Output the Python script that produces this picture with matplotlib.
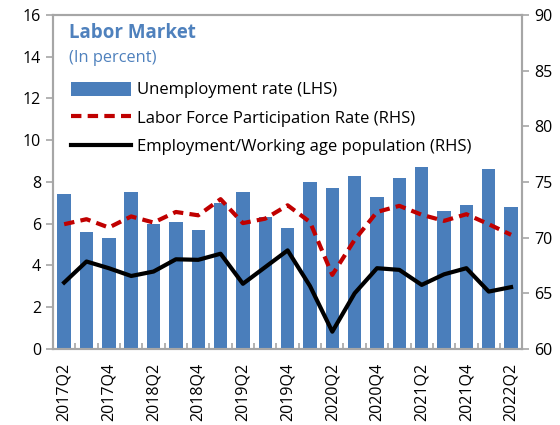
import matplotlib
matplotlib.use("Agg")
import matplotlib.pyplot as plt
from matplotlib.lines import Line2D
from matplotlib.patches import Patch
import numpy as np

plt.rcParams['font.family'] = ['Open Sans', 'DejaVu Sans']

quarters = ["2017Q2", "2017Q3", "2017Q4", "2018Q1", "2018Q2", "2018Q3", "2018Q4",
            "2019Q1", "2019Q2", "2019Q3", "2019Q4", "2020Q1", "2020Q2", "2020Q3",
            "2020Q4", "2021Q1", "2021Q2", "2021Q3", "2021Q4", "2022Q1", "2022Q2"]
unemployment = [7.4, 5.6, 5.3, 7.5, 6.0, 6.1, 5.7, 7.0, 7.5, 6.3, 5.8, 8.0, 7.7, 8.3,
                7.3, 8.2, 8.7, 6.6, 6.9, 8.6, 6.8]
participation = [71.2, 71.65, 70.9, 71.9, 71.35, 72.3, 72.0, 73.45, 71.3, 71.7, 72.9,
                 71.4, 66.65, 69.8, 72.3, 72.85, 72.05, 71.5, 72.1, 71.2, 70.25]
emp_wap = [65.96, 67.85, 67.25, 66.55, 66.95, 68.05, 68.0, 68.55, 65.85, 67.35, 68.85,
           65.65, 61.55, 65.0, 67.25, 67.1, 65.75, 66.7, 67.25, 65.15, 65.55]

blue = "#4A7EBB"
red = "#C00000"
grey = "#A6A6A6"
title_col = "#4F81BD"
dash = (0, (2.5, 1.5))

fig = plt.figure(figsize=(5.6, 4.25), dpi=100)
ax = fig.add_axes([0.0946, 0.179, 0.838, 0.786])
x = np.arange(len(quarters))
ax.bar(x, unemployment, width=0.6, color=blue, zorder=2)
ax.set_xlim(-0.5, len(quarters) - 0.5)
ax.set_ylim(0, 16)
ax.set_yticks(range(0, 17, 2))

ax2 = ax.twinx()
ax2.plot(x, participation, color=red, lw=3, ls=dash, zorder=3)
ax2.plot(x, emp_wap, color="black", lw=3, zorder=3)
ax2.set_ylim(60, 90)
ax2.set_yticks(range(60, 91, 5))

for a in (ax, ax2):
    for s in a.spines.values():
        s.set_color(grey)
        s.set_linewidth(1.5)
    a.tick_params(axis='y', colors=grey, labelcolor='black', labelsize=11.5, length=5, width=1.2)

ax.set_xticks(x[::2])
ax.set_xticklabels(quarters[::2], rotation=90, fontsize=11.5)
ax.tick_params(axis='x', length=0, pad=10)
ax.set_xticks(np.arange(-0.5, len(quarters), 1), minor=True)
ax.tick_params(axis='x', which='minor', direction='in', length=4, color=grey, width=1.2)

ax.text(0.034, 0.945, "Labor Market", transform=ax.transAxes, fontsize=13.5,
        fontweight='bold', color=title_col, va='center')
ax.text(0.034, 0.872, "(In percent)", transform=ax.transAxes, fontsize=11.8,
        color=title_col, va='center')

handles = [Patch(facecolor=blue),
           Line2D([], [], color=red, lw=3, ls=dash),
           Line2D([], [], color='black', lw=3)]
labels = ["Unemployment rate (LHS)", "Labor Force Participation Rate (RHS)",
          "Employment/Working age population (RHS)"]
leg = ax2.legend(handles, labels, loc='upper left', bbox_to_anchor=(0.038, 0.80),
                 frameon=False, fontsize=12, handlelength=3.6, handleheight=0.9,
                 handletextpad=0.35, labelspacing=0.7, borderaxespad=0, borderpad=0)

fig.savefig("out.png", dpi=100)
